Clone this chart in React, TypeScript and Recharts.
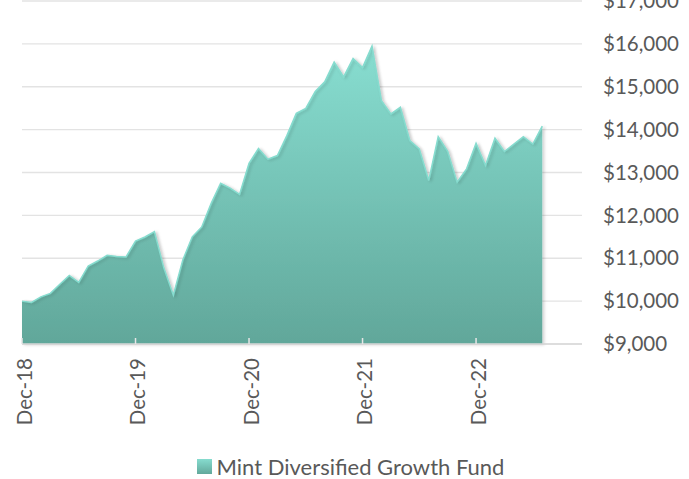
import React from 'react';
import { AreaChart, Area, XAxis, YAxis, CartesianGrid, Legend } from 'recharts';

// monthly growth of $10,000, Dec-18 to Jul-23
const months = [
  'Dec-18', 'Jan-19', 'Feb-19', 'Mar-19', 'Apr-19', 'May-19', 'Jun-19', 'Jul-19', 'Aug-19', 'Sep-19', 'Oct-19', 'Nov-19',
  'Dec-19', 'Jan-20', 'Feb-20', 'Mar-20', 'Apr-20', 'May-20', 'Jun-20', 'Jul-20', 'Aug-20', 'Sep-20', 'Oct-20', 'Nov-20',
  'Dec-20', 'Jan-21', 'Feb-21', 'Mar-21', 'Apr-21', 'May-21', 'Jun-21', 'Jul-21', 'Aug-21', 'Sep-21', 'Oct-21', 'Nov-21',
  'Dec-21', 'Jan-22', 'Feb-22', 'Mar-22', 'Apr-22', 'May-22', 'Jun-22', 'Jul-22', 'Aug-22', 'Sep-22', 'Oct-22', 'Nov-22',
  'Dec-22', 'Jan-23', 'Feb-23', 'Mar-23', 'Apr-23', 'May-23', 'Jun-23', 'Jul-23',
];

const fundValues = [
  10000, 9970, 10100, 10180, 10395, 10600, 10435, 10820, 10935, 11070, 11040, 11030,
  11400, 11495, 11620, 10770, 10140, 10960, 11500, 11730, 12280, 12750, 12635, 12490,
  13215, 13560, 13310, 13395, 13860, 14380, 14495, 14890, 15115, 15575, 15230, 15660,
  15450, 15950, 14675, 14365, 14520, 13745, 13550, 12815, 13835, 13495, 12775, 13085,
  13680, 13165, 13800, 13490, 13665, 13835, 13665, 14080,
];

const xTickLabels = ['Dec-18', 'Dec-19', 'Dec-20', 'Dec-21', 'Dec-22'];
const yTicks = [9000, 10000, 11000, 12000, 13000, 14000, 15000, 16000, 17000];
const seriesName = 'Mint Diversified Growth Fund';

const data = fundValues.map((v, i) => ({ idx: i, month: months[i], value: v }));
const xTicks = xTickLabels.map((l) => months.indexOf(l));

const FONT = 'Lato, "Open Sans", sans-serif';
const TEXT = '#595959';

const XTick = (props: any) => {
  const { x, y, payload } = props;
  const tx = x + 9.5;
  const ty = y + 14;
  return (
    <g>
      <line x1={x} y1={y - 6} x2={x} y2={y} stroke="#e6e6e6" strokeWidth={1.5} />
      <text
        x={tx}
        y={ty}
        transform={`rotate(-90, ${tx}, ${ty})`}
        textAnchor="end"
        fill={TEXT}
        fontSize={20.5}
        fontFamily={FONT}
      >
        {months[payload.value]}
      </text>
    </g>
  );
};

const YTick = (props: any) => {
  const { x, y, payload } = props;
  return (
    <text x={x + 21} y={y} dy="0.35em" textAnchor="start" fill={TEXT} fontSize={20.5} fontFamily={FONT}>
      {'$' + payload.value.toLocaleString('en-US')}
    </text>
  );
};

const LegendContent = () => (
  <div
    style={{
      height: 40,
      boxSizing: 'border-box',
      paddingTop: 14,
      paddingRight: 10,
      display: 'flex',
      justifyContent: 'center',
      alignItems: 'center',
      fontFamily: FONT,
      fontSize: 22,
      color: TEXT,
    }}
  >
    <span
      style={{
        display: 'inline-block',
        width: 15,
        height: 15,
        marginRight: 5,
        background: 'linear-gradient(#86dccf, #62a89b)',
      }}
    />
    <span>{seriesName}</span>
  </div>
);

export default function App() {
  return (
    <div style={{ position: 'absolute', left: 0, top: 0 }}>
      <AreaChart width={689} height={479} data={data} margin={{ top: 1, right: 0, left: 22, bottom: 0 }}>
        <defs>
          <linearGradient id="fundFill" x1="0" y1="0" x2="0" y2="1">
            <stop offset="0%" stopColor="#88ded1" />
            <stop offset="100%" stopColor="#61a79a" />
          </linearGradient>
          <filter id="softShadow" x="-5%" y="-5%" width="110%" height="110%">
            <feDropShadow dx="2" dy="1" stdDeviation="1.5" floodColor="#000" floodOpacity="0.18" />
          </filter>
        </defs>
        <CartesianGrid vertical={false} stroke="#e3e3e3" strokeWidth={1.3} />
        <YAxis
          orientation="right"
          width={107}
          domain={[9000, 17000]}
          ticks={yTicks}
          axisLine={false}
          tickLine={false}
          tickSize={0}
          tickMargin={0}
          tick={<YTick />}
          interval={0}
        />
        <Area
          type="linear"
          dataKey="value"
          name={seriesName}
          stroke="#86dccf"
          strokeWidth={1.5}
          fill="url(#fundFill)"
          fillOpacity={1}
          filter="url(#softShadow)"
          isAnimationActive={false}
        />
        <XAxis
          dataKey="idx"
          type="number"
          domain={[0, 59.2]}
          ticks={xTicks}
          height={95}
          axisLine={{ stroke: '#d9d9d9', strokeWidth: 1.5 }}
          tickLine={false}
          tickSize={0}
          tickMargin={0}
          tick={<XTick />}
          interval={0}
        />
        <Legend verticalAlign="bottom" content={<LegendContent />} />
      </AreaChart>
    </div>
  );
}
